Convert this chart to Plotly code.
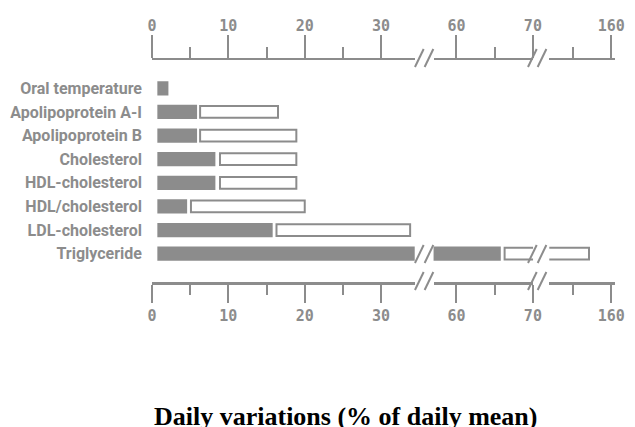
import plotly.graph_objects as go

# ---------------- data ----------------
categories = ["Oral temperature", "Apolipoprotein A-I", "Apolipoprotein B", "Cholesterol",
              "HDL-cholesterol", "HDL/cholesterol", "LDL-cholesterol", "Triglyceride"]
filled_start = 0.7
filled_end = [2.15, 5.9, 5.9, 8.3, 8.3, 4.6, 15.8, 65.8]
open_cats = ["Apolipoprotein A-I", "Apolipoprotein B", "Cholesterol",
             "HDL-cholesterol", "HDL/cholesterol", "LDL-cholesterol", "Triglyceride"]
open_start = [6.3, 6.3, 8.9, 8.9, 5.1, 16.3, 66.3]
open_end = [16.5, 18.9, 18.9, 18.9, 20.0, 33.8, 157.1]

seg_ranges = [[0, 34.4], [57, 70.02], [151.9, 160.5]]
seg_major = [[0, 10, 20, 30], [60, 70], [160]]
seg_minor = [[5, 15, 25], [65], [155]]

title_text = "Daily variations (% of daily mean)"

# ---------------- layout helpers ----------------
W, H = 635, 427
ML, MR, MT, MB = 146, 10, 60, 145
PW = W - ML - MR
PH = H - MT - MB

def fx(px):
    return (px - ML) / PW

def fy(py):
    return (H - MB - py) / PH

GRAY = "#8c8c8c"
domains = [[0.0, fx(417.8)], [fx(437.3), fx(540.2)], [fx(557), 1.0]]

fig = go.Figure()
bottom_ids = ["x", "x2", "x3"]
for ax in bottom_ids:
    fig.add_trace(go.Bar(
        y=categories, x=[e - filled_start for e in filled_end], base=filled_start,
        orientation="h", xaxis=ax, yaxis="y", width=0.6,
        marker=dict(color=GRAY, line=dict(width=0)), showlegend=False, hoverinfo="skip"))
    fig.add_trace(go.Bar(
        y=open_cats, x=[e - s for s, e in zip(open_start, open_end)], base=open_start,
        orientation="h", xaxis=ax, yaxis="y", width=0.5,
        marker=dict(color="white", line=dict(color=GRAY, width=2)),
        showlegend=False, hoverinfo="skip"))

tickfont = dict(family="DejaVu Sans Mono", size=15, color=GRAY, weight="bold")

def axis_common(i, side):
    d = dict(domain=domains[i], range=seg_ranges[i], showline=True, linecolor=GRAY,
             linewidth=2 if side == "top" else 3, ticks="outside", tickcolor=GRAY, tickwidth=2,
             ticklen=23 if side == "top" else 18, tickmode="array",
             tickvals=seg_major[i], ticktext=[str(v) for v in seg_major[i]],
             minor=dict(tickmode="array", tickvals=seg_minor[i], ticks="outside",
                        ticklen=11 if side == "top" else 10, tickcolor=GRAY, tickwidth=2,
                        showgrid=False),
             showgrid=False, zeroline=False, tickfont=tickfont, side=side, anchor="y",
             ticklabelstandoff=-2 if side == "top" else 0,
             fixedrange=True)
    return d

layout_axes = {}
for i in range(3):
    key = "xaxis" if i == 0 else f"xaxis{i+1}"
    layout_axes[key] = axis_common(i, "bottom")
    top = axis_common(i, "top")
    top["overlaying"] = bottom_ids[i]
    layout_axes[f"xaxis{i+4}"] = top

fig.update_layout(**layout_axes)

fig.update_layout(
    width=W, height=H, margin=dict(l=ML, r=MR, t=MT, b=MB),
    paper_bgcolor="white", plot_bgcolor="white", barmode="overlay",
    yaxis=dict(type="category", categoryorder="array", categoryarray=categories,
               range=[8.2, -1.2], showline=False, showgrid=False, zeroline=False,
               ticks="", ticklabelstandoff=9, anchor="x",
               tickfont=dict(family="Liberation Sans Narrow, Arial Narrow, Roboto, sans-serif",
                             size=16, color=GRAY, weight="bold")),
)

# invisible traces to activate top axes
for j in range(3):
    fig.add_trace(go.Scatter(x=[seg_ranges[j][0]], y=[categories[0]], xaxis=f"x{j+4}", yaxis="y",
                             mode="markers", marker=dict(opacity=0), showlegend=False,
                             hoverinfo="skip"))

# break marks (decoration)
gap_centers = [(417.8 + 437.3) / 2, 544.5]
for cx in gap_centers:
    for (ybot, ytop) in [(67, 49), (290, 272), (263, 245)]:
        for off in (-5, 5):
            fig.add_shape(type="line", xref="paper", yref="paper",
                          x0=fx(cx + off - 4.5), y0=fy(ybot), x1=fx(cx + off + 4.5), y1=fy(ytop),
                          line=dict(color=GRAY, width=2))

fig.add_annotation(text=title_text, xref="paper", yref="paper", x=fx(347), y=fy(400),
                   xanchor="center", yanchor="top", showarrow=False,
                   font=dict(family="Liberation Serif", size=26, color="black", weight="bold"))

fig.write_html("out.html", config={"displayModeBar": False},
               post_script="document.body.style.margin='0';document.body.style.padding='0';"
                           "document.body.style.overflow='hidden';")
